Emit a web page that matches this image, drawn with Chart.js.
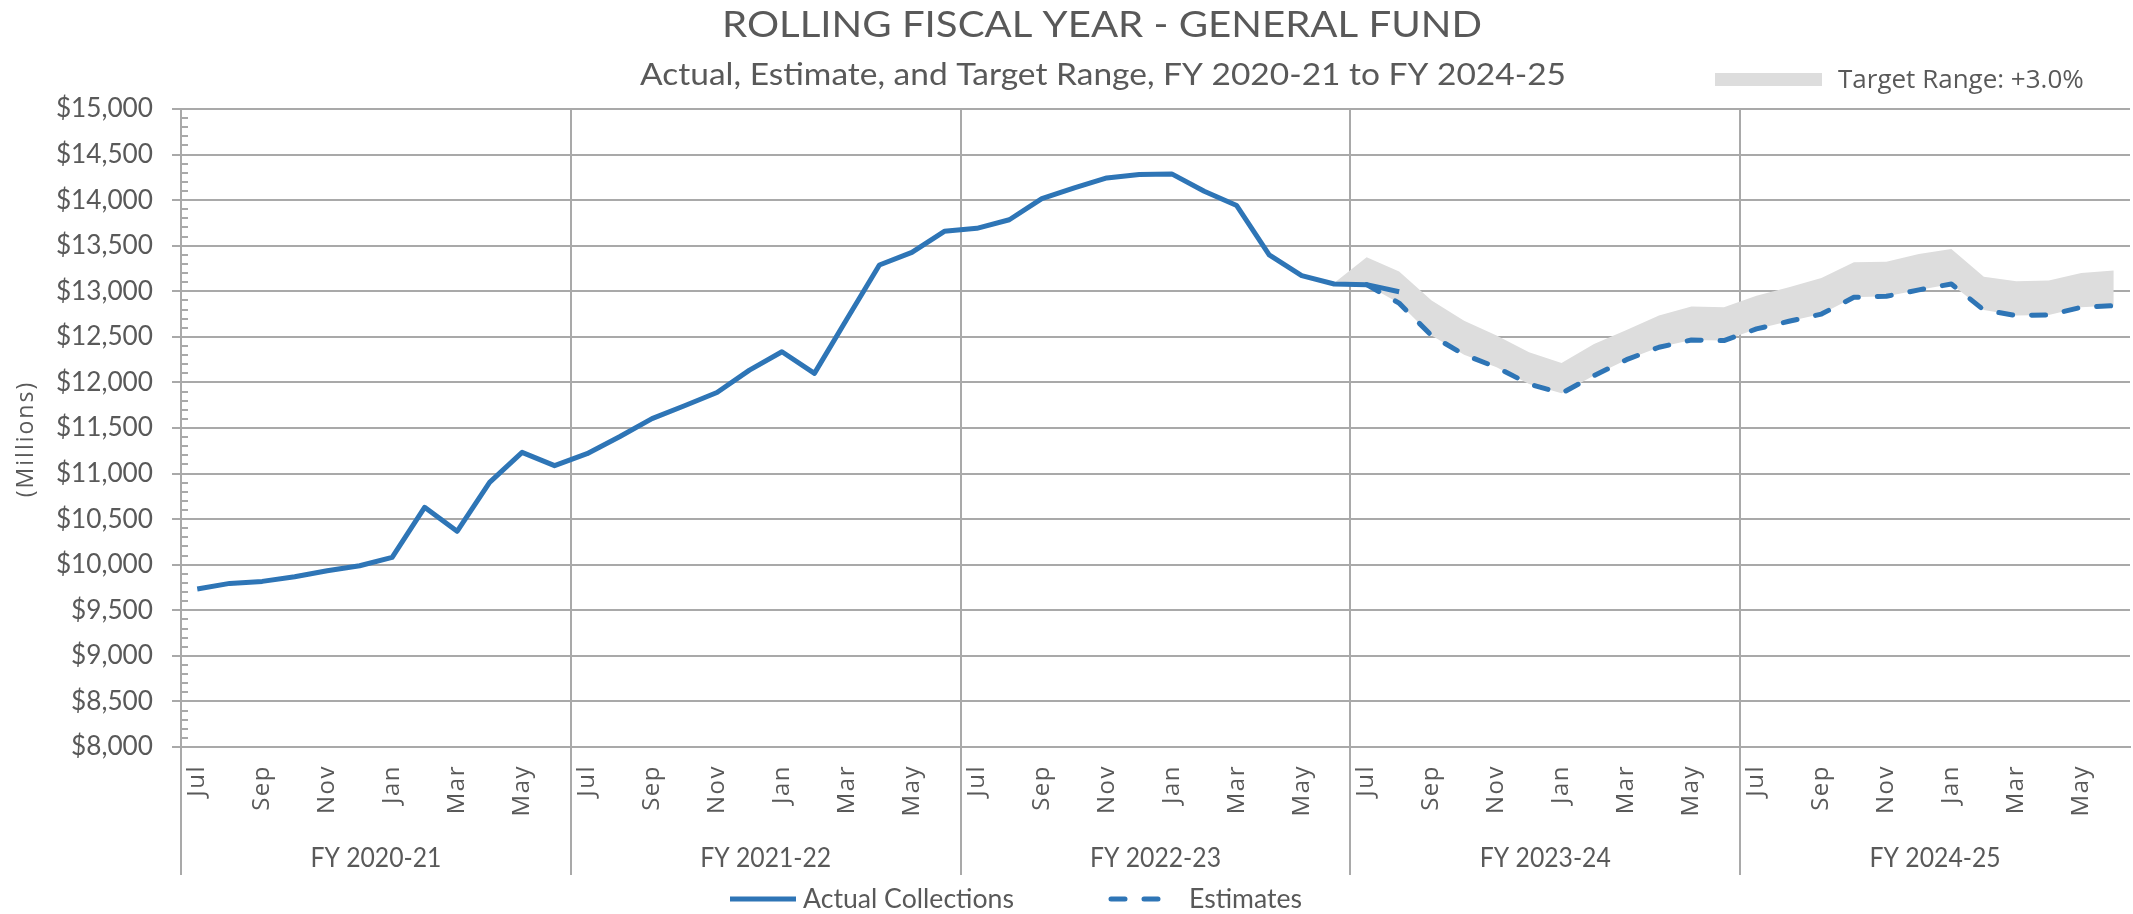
<!DOCTYPE html>
<html lang="en">
<head>
<meta charset="UTF-8">
<title>Rolling Fiscal Year - General Fund</title>
<script src="https://cdn.jsdelivr.net/npm/chart.js"></script>
<style>
    html, body { margin: 0; padding: 0; background: #fff; }
    #wrap { width: 2133px; height: 914px; }
</style>
</head>
<body>
<div id="wrap"><canvas id="fundChart" width="2133" height="914"></canvas></div>
<script>
// categories
const months = ['Jul', 'Aug', 'Sep', 'Oct', 'Nov', 'Dec', 'Jan', 'Feb', 'Mar', 'Apr', 'May', 'Jun'];
const fiscalYears = ['FY 2020-21', 'FY 2021-22', 'FY 2022-23', 'FY 2023-24', 'FY 2024-25'];

const gap = n => Array(n).fill(null);

// rolling fiscal year totals, $ millions (one value per month, Jul 2020 .. Jun 2025)
const actual = [
    9733, 9795, 9817, 9868, 9934, 9989, 10080, 10630, 10366, 10904, 11233, 11087,
    11218, 11404, 11603, 11744, 11890, 12135, 12337, 12099, 12695, 13288, 13427, 13658,
    13691, 13785, 14017, 14135, 14244, 14281, 14288, 14098, 13941, 13399, 13172, 13080,
    13073, 12995, ...gap(22)
];
const estimates = [
    ...gap(36),
    13073, 12870, 12514, 12305, 12166, 11983, 11881, 12075, 12250, 12386, 12466, 12459,
    12587, 12671, 12750, 12934, 12945, 13015, 13080, 12795, 12733, 12740, 12824, 12843
];
const targetLow = [
    ...gap(35), 13080,
    13073, 12870, 12514, 12305, 12166, 11983, 11881, 12075, 12250, 12386, 12466, 12459,
    12587, 12671, 12750, 12934, 12945, 13015, 13080, 12795, 12733, 12740, 12824, 12843
];
const targetHigh = [
    ...gap(35), 13090,
    13373, 13216, 12898, 12678, 12514, 12331, 12214, 12422, 12576, 12733, 12832, 12825,
    12952, 13044, 13146, 13318, 13325, 13410, 13465, 13160, 13110, 13117, 13200, 13227
];

// y axis ticks
const yMin = 8000, yMax = 15000, yStep = 500, yMinorStep = 100;

const labels = fiscalYears.flatMap(() => months);

const BLUE = '#2E75B6';
const BAND = '#DDDDDD';
const GRID = '#A9A9A9';
const TEXT = '#595959';
const SANS = 'Lato, "Noto Sans", sans-serif';
const WIDE = '"Open Sans", "Noto Sans", sans-serif';

// font size that makes a text as wide as in the picture
const meas = document.createElement('canvas').getContext('2d');
function fitSize(text, font, width) {
    meas.font = '100px ' + font;
    return Math.round(1000 * width / meas.measureText(text).width) / 10;
}

// text at a given size, squeezed to the width it has in the picture
function drawFit(c, text, x, y, font, width) {
    c.font = font;
    const sx = width / c.measureText(text).width;
    c.save();
    c.translate(x, y);
    c.scale(sx, 1);
    c.fillText(text, 0, 0);
    c.restore();
}

const titleText = 'ROLLING FISCAL YEAR - GENERAL FUND';
const subText = 'Actual, Estimate, and Target Range, FY 2020-21 to FY 2024-25';
const ySize = fitSize('$15,000', SANS, 97);
const keySize = fitSize('Target Range: +3.0%', WIDE, 246);

const decor = {
    id: 'decor',
    beforeDraw(chart) {
        // month labels get a little letter spacing
        const xs = chart.scales.x;
        if (!xs._spaced) {
            const orig = xs.drawLabels;
            xs.drawLabels = function (area) {
                this.ctx.save();
                this.ctx.letterSpacing = '1.5px';
                orig.call(this, area);
                this.ctx.restore();
            };
            xs._spaced = true;
        }
    },
    beforeDatasetsDraw(chart) {
        // minor ticks on the value axis
        const c = chart.ctx, ys = chart.scales.y, area = chart.chartArea;
        c.save();
        c.strokeStyle = GRID;
        c.lineWidth = 2;
        for (let v = yMin + yMinorStep; v < yMax; v += yMinorStep) {
            if (v % yStep === 0) continue;
            const y = Math.round(ys.getPixelForValue(v));
            c.beginPath();
            c.moveTo(area.left, y);
            c.lineTo(area.left + 7, y);
            c.stroke();
        }
        c.restore();
    },
    afterDraw(chart) {
        const c = chart.ctx, xs = chart.scales.x, area = chart.chartArea;
        c.save();
        c.fillStyle = TEXT;
        c.textAlign = 'center';
        c.textBaseline = 'alphabetic';
        drawFit(c, titleText, 1102, 37, '37px ' + SANS, 760);
        drawFit(c, subText, 1103, 85, '30px ' + SANS, 926);

        // target range key
        c.fillStyle = BAND;
        c.fillRect(1715, 73, 107, 13);
        c.fillStyle = TEXT;
        c.textAlign = 'left';
        c.font = keySize + 'px ' + WIDE;
        c.fillText('Target Range: +3.0%', 1838, 88);

        // y axis title
        c.save();
        c.translate(26, 440);
        c.rotate(-Math.PI / 2);
        c.textAlign = 'center';
        c.textBaseline = 'middle';
        c.letterSpacing = '2px';
        c.font = '23px ' + WIDE;
        c.fillText('(Millions)', 1, 0);
        c.restore();

        // fiscal year groups under the months
        const bw = xs.getPixelForValue(1) - xs.getPixelForValue(0);
        const edge = k => xs.getPixelForValue(12 * k) - bw / 2;
        c.strokeStyle = GRID;
        c.lineWidth = 2;
        for (let k = 0; k < fiscalYears.length; k++) {
            const x = Math.round(edge(k));
            c.beginPath();
            c.moveTo(x, area.bottom);
            c.lineTo(x, 875);
            c.stroke();
        }
        c.textAlign = 'center';
        fiscalYears.forEach((fy, k) => {
            const mid = (edge(k) + xs.getPixelForValue(12 * k + 11) + bw / 2) / 2;
            drawFit(c, fy, mid, 867, '26px ' + SANS, 131);
        });

        // bottom legend
        c.strokeStyle = BLUE;
        c.lineWidth = 5;
        c.beginPath();
        c.moveTo(730, 899);
        c.lineTo(796, 899);
        c.stroke();
        c.lineCap = 'round';
        c.setLineDash([14, 19]);
        c.beginPath();
        c.moveTo(1111, 899);
        c.lineTo(1161, 899);
        c.stroke();
        c.setLineDash([]);
        c.textAlign = 'left';
        drawFit(c, 'Actual Collections', 803, 908, '26px ' + SANS, 211);
        drawFit(c, 'Estimates', 1189, 908, '26px ' + SANS, 113);
        c.restore();
    }
};

new Chart(document.getElementById('fundChart'), {
    type: 'line',
    data: {
        labels: labels,
        datasets: [
            {
                label: 'Actual Collections',
                data: actual,
                borderColor: BLUE,
                borderWidth: 5,
                borderJoinStyle: 'round',
                pointRadius: 0,
                fill: false,
                order: 0
            },
            {
                label: 'Estimates',
                data: estimates,
                borderColor: BLUE,
                borderWidth: 5,
                borderDash: [14, 19],
                borderCapStyle: 'round',
                borderJoinStyle: 'round',
                pointRadius: 0,
                fill: false,
                order: 1
            },
            {
                label: 'Target Range: +3.0%',
                data: targetHigh,
                borderColor: 'rgba(0,0,0,0)',
                borderWidth: 0,
                backgroundColor: BAND,
                pointRadius: 0,
                fill: '+1',
                order: 2
            },
            {
                label: 'Target low',
                data: targetLow,
                borderColor: 'rgba(0,0,0,0)',
                borderWidth: 0,
                pointRadius: 0,
                fill: false,
                order: 3
            }
        ]
    },
    options: {
        responsive: false,
        animation: false,
        layout: { padding: { top: 109, right: 0, bottom: 39, left: 0 } },
        plugins: {
            legend: { display: false },
            tooltip: { enabled: false }
        },
        scales: {
            x: {
                offset: true,
                grid: {
                    offset: true,
                    drawTicks: false,
                    lineWidth: 2,
                    color: ctx => (ctx.index % 12 === 0 && ctx.index < 60) ? GRID : 'rgba(0,0,0,0)'
                },
                border: { display: true, color: GRID, width: 2 },
                ticks: {
                    autoSkip: false,
                    minRotation: 90,
                    maxRotation: 90,
                    padding: 18,
                    color: TEXT,
                    font: { family: WIDE, size: 24 },
                    callback: (v, i) => i % 2 === 0 ? labels[i] : ''
                },
                afterFit: s => {
                    s.height = 128;
                    s.paddingLeft = 0;
                    s.paddingRight = 3;
                }
            },
            y: {
                min: yMin,
                max: yMax,
                ticks: {
                    stepSize: yStep,
                    padding: 19,
                    color: TEXT,
                    font: { family: SANS, size: ySize },
                    callback: v => '$' + v.toLocaleString('en-US')
                },
                grid: { color: GRID, lineWidth: 2, tickLength: 9 },
                border: { color: GRID, width: 2 },
                afterFit: s => { s.width = 181; }
            }
        }
    },
    plugins: [decor]
});
</script>
</body>
</html>
